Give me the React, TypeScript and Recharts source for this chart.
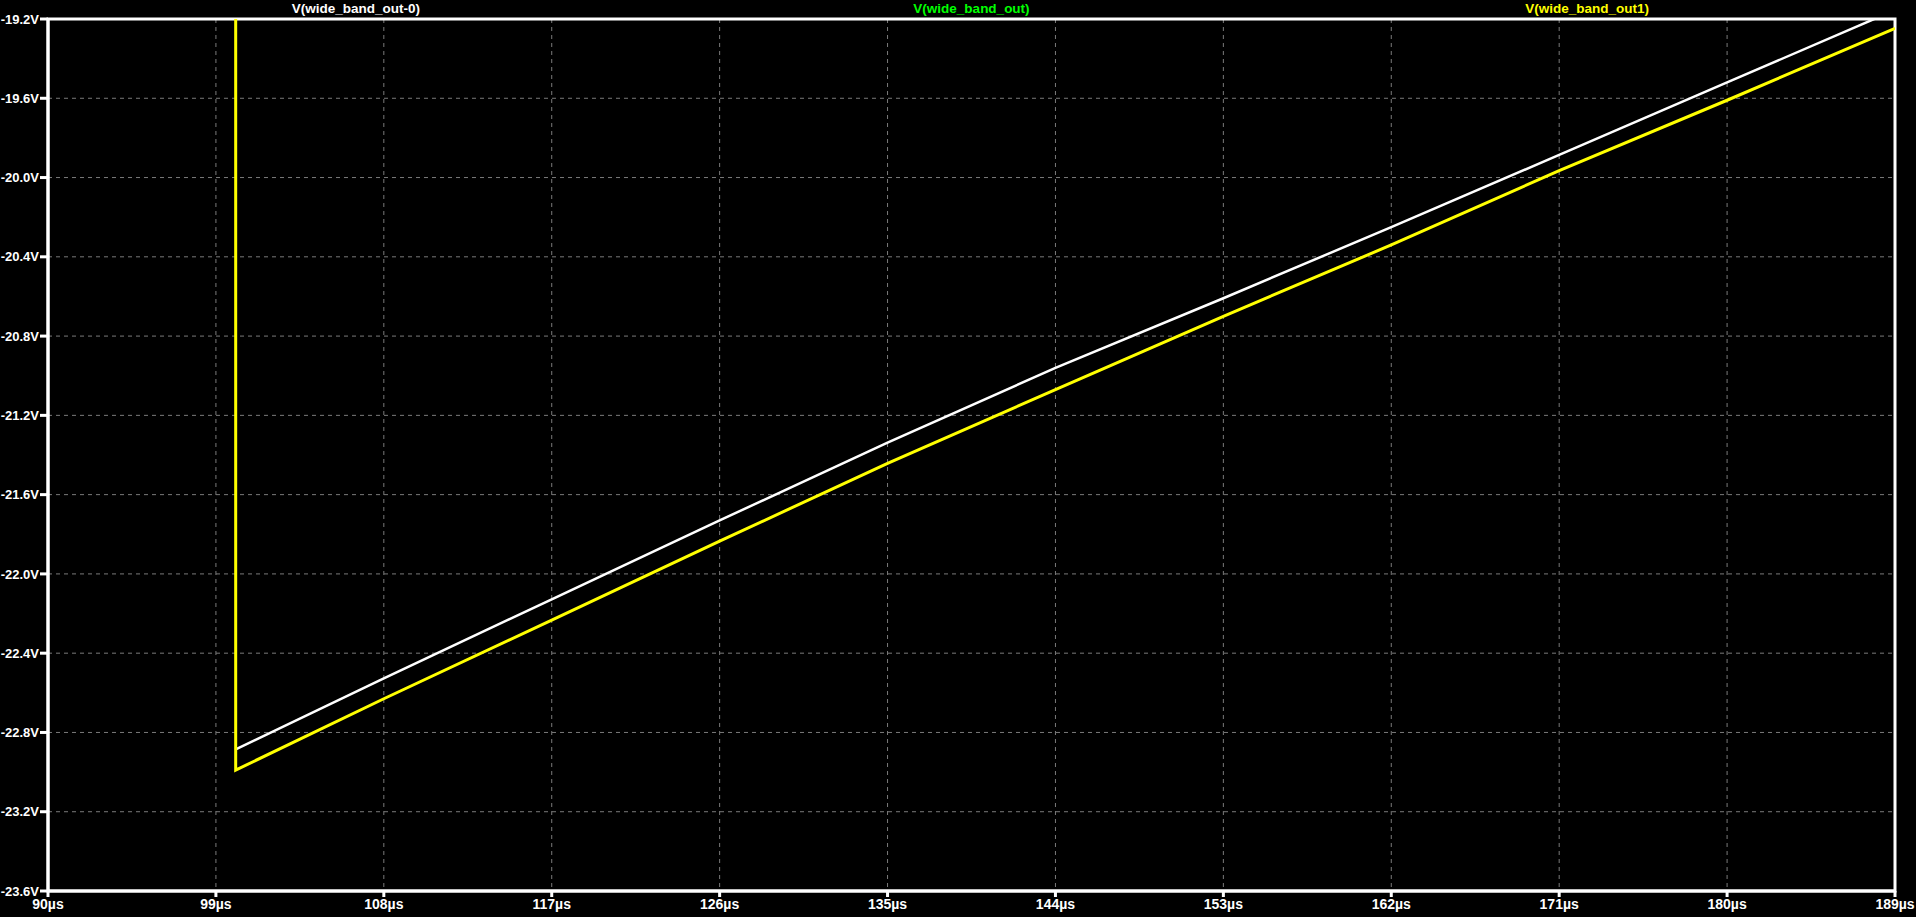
import { CartesianGrid, Line, LineChart, ReferenceArea, XAxis, YAxis } from "recharts"

const times = [100.06, 100.06, 108, 117, 126, 135, 144, 153, 162, 171, 180, 189]
const wideBandOut0 = [null, -22.885, -22.527, -22.128, -21.73, -21.338, -20.96, -20.609, -20.25, -19.886, -19.52, -19.155]
const wideBandOut1 = [-18.9, -22.99, -22.63, -22.233, -21.835, -21.442, -21.07, -20.7, -20.34, -19.965, -19.61, -19.247]

const xTicks = [90, 99, 108, 117, 126, 135, 144, 153, 162, 171, 180, 189]
const yTicks = [-23.6, -23.2, -22.8, -22.4, -22.0, -21.6, -21.2, -20.8, -20.4, -20.0, -19.6, -19.2]

const traceNames = ["V(wide_band_out-0)", "V(wide_band_out)", "V(wide_band_out1)"]
const traceColors = ["#ffffff", "#00ff00", "#ffff00"]

const data = times.map((t, i) => ({ t, out0: wideBandOut0[i], out1: wideBandOut1[i] }))

const W = 1916
const H = 917
const left = 48
const right = 1895
const font = "'Liberation Sans', Arial, sans-serif"

export default function App() {
  const step = (right - left) / 6
  return (
    <div style={{ position: "fixed", inset: 0, background: "#000", overflow: "hidden" }}>
      <div style={{ position: "absolute", left: 0, top: 0, width: W, height: H }}>
        <LineChart width={W} height={H} data={data} margin={{ top: 19, right: W - right, bottom: 0, left: 0 }}>
          <CartesianGrid stroke="#7a7a7a" strokeDasharray="4 4" strokeWidth={1} />
          <XAxis
            dataKey="t"
            type="number"
            domain={[90, 189]}
            ticks={xTicks}
            allowDataOverflow
            height={26}
            stroke="#fff"
            strokeWidth={3}
            tickSize={6}
            tickMargin={2}
            tickLine={{ stroke: "#fff", strokeWidth: 3 }}
            tick={{ fill: "#fff", fontSize: 14, fontWeight: "bold", fontFamily: font }}
            tickFormatter={(v) => `${v}µs`}
          />
          <YAxis
            type="number"
            domain={[-23.6, -19.2]}
            ticks={yTicks}
            allowDataOverflow
            width={left}
            stroke="#fff"
            strokeWidth={3}
            tickSize={8}
            tickMargin={1}
            tickLine={{ stroke: "#fff", strokeWidth: 3 }}
            tick={{ fill: "#fff", fontSize: 13, fontWeight: "bold", fontFamily: font }}
            tickFormatter={(v) => `${Number(v).toFixed(1)}V`}
          />
          <ReferenceArea x1={90} x2={189} y1={-23.6} y2={-19.2} fill="none" stroke="#fff" strokeWidth={3} />
          <Line dataKey="out0" stroke={traceColors[0]} strokeWidth={2.5} dot={false} isAnimationActive={false} />
          <Line dataKey="out1" stroke={traceColors[2]} strokeWidth={3} dot={false} isAnimationActive={false} />
        </LineChart>
        {traceNames.map((name, i) => (
          <div
            key={name}
            style={{
              position: "absolute",
              left: left + step * (1 + 2 * i) - 150,
              width: 300,
              top: 1,
              textAlign: "center",
              color: traceColors[i],
              fontFamily: font,
              fontWeight: "bold",
              fontSize: 13.5,
              lineHeight: "16px",
            }}
          >
            {name}
          </div>
        ))}
      </div>
    </div>
  )
}
